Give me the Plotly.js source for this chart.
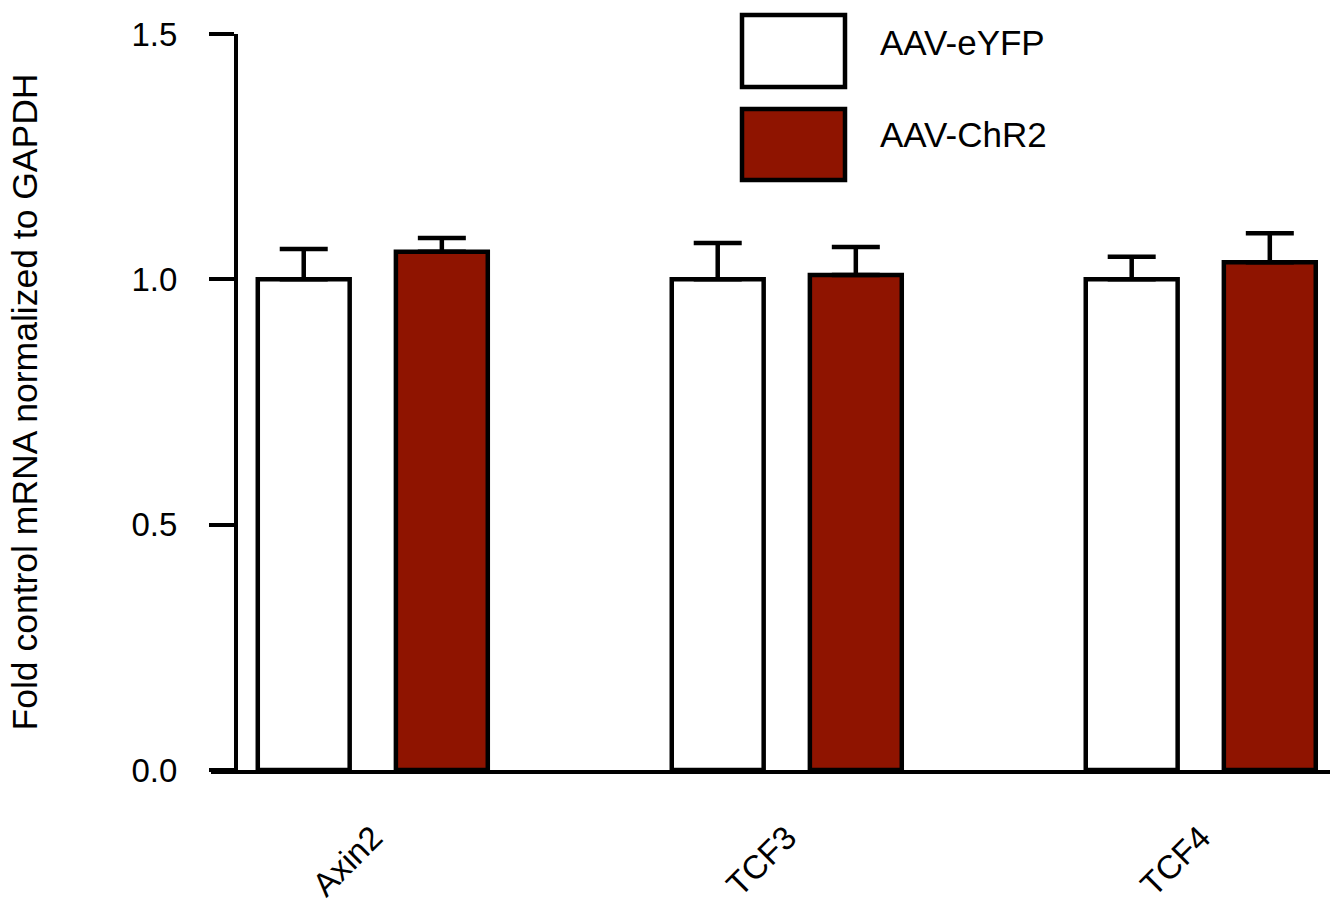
<!DOCTYPE html>
<html>
<head>
<meta charset="utf-8">
<script src="https://cdn.plot.ly/plotly-3.0.1.min.js"></script>
<style>html,body{margin:0;padding:0;background:#fff;}#chart{width:1330px;height:903px;}</style>
</head>
<body>
<div id="chart"></div>
<script>
// ---- data ----
const categories = ["Axin2", "TCF3", "TCF4"];
const seriesNames = ["AAV-eYFP", "AAV-ChR2"];
const eyfpValues = [1.0, 1.0, 1.0];
const eyfpErrors = [0.062, 0.074, 0.046];
const chr2Values = [1.056, 1.009, 1.035];
const chr2Errors = [0.028, 0.057, 0.059];
const yTickVals = [0, 0.5, 1.0, 1.5];
const yTickText = ["0.0", "0.5", "1.0", "1.5"];
const yTitle = "Fold control mRNA normalized to GAPDH";

// ---- styling ----
const FONT = "Liberation Sans, Arial, sans-serif";
const RED = "#8f1400";
const W = 1330, H = 903;
const mL = 211, mR = 0, mT = 34, mB = 133;
const plotW = W - mL - mR, plotH = H - mT - mB;
const px = v => (v - mL) / plotW;        // pixel -> paper x
const py = v => (H - mB - v) / plotH;    // pixel -> paper y

const errStyle = {type: "data", symmetric: false, color: "#000", thickness: 4.5, width: 24};

const traces = [
  {
    type: "bar", name: seriesNames[0], x: categories, y: eyfpValues,
    width: 0.222, offset: -0.278,
    marker: {color: "#ffffff", line: {color: "#000", width: 4.5}},
    error_y: Object.assign({array: eyfpErrors, arrayminus: eyfpErrors.map(() => 0)}, errStyle),
    showlegend: false
  },
  {
    type: "bar", name: seriesNames[1], x: categories, y: chr2Values,
    width: 0.222, offset: 0.0556,
    marker: {color: RED, line: {color: "#000", width: 4.5}},
    error_y: Object.assign({array: chr2Errors, arrayminus: chr2Errors.map(() => 0)}, errStyle),
    showlegend: false
  }
];

const layout = {
  width: W, height: H,
  margin: {l: mL, r: mR, t: mT, b: mB},
  paper_bgcolor: "#fff", plot_bgcolor: "rgba(0,0,0,0)",
  font: {family: FONT, color: "#000"},
  showlegend: false,
  xaxis: {
    type: "category",
    range: [-0.391, 2.312],
    showline: true, linecolor: "#000", linewidth: 4,
    ticks: "", showgrid: false, zeroline: false,
    tickangle: -45,
    ticklabelstandoff: 31,
    tickfont: {family: FONT, size: 33, color: "#000"},
    fixedrange: true
  },
  yaxis: {
    range: [0, 1.5],
    anchor: "free", position: px(236),
    showline: true, linecolor: "#000", linewidth: 4,
    ticks: "outside", ticklen: 25, tickwidth: 4, tickcolor: "#000",
    tickvals: yTickVals, ticktext: yTickText,
    ticklabelstandoff: 25,
    tickfont: {family: FONT, size: 33, color: "#000"},
    showgrid: false, zeroline: false,
    title: {text: yTitle, font: {family: FONT, size: 35.5, color: "#000"}, standoff: 82},
    fixedrange: true
  },
  shapes: [
    {type: "rect", xref: "paper", yref: "paper", x0: px(742), x1: px(845), y0: py(87), y1: py(15),
     fillcolor: "#ffffff", line: {color: "#000", width: 4.5}},
    {type: "rect", xref: "paper", yref: "paper", x0: px(742), x1: px(845), y0: py(180), y1: py(109),
     fillcolor: RED, line: {color: "#000", width: 4.5}}
  ],
  annotations: [
    {xref: "paper", yref: "paper", x: px(878), y: py(43), xanchor: "left", yanchor: "middle",
     text: seriesNames[0], showarrow: false, font: {family: FONT, size: 35, color: "#000"}},
    {xref: "paper", yref: "paper", x: px(878), y: py(134), xanchor: "left", yanchor: "middle",
     text: seriesNames[1], showarrow: false, font: {family: FONT, size: 35, color: "#000"}}
  ]
};

Plotly.newPlot("chart", traces, layout, {displayModeBar: false, staticPlot: true});
</script>
</body>
</html>
